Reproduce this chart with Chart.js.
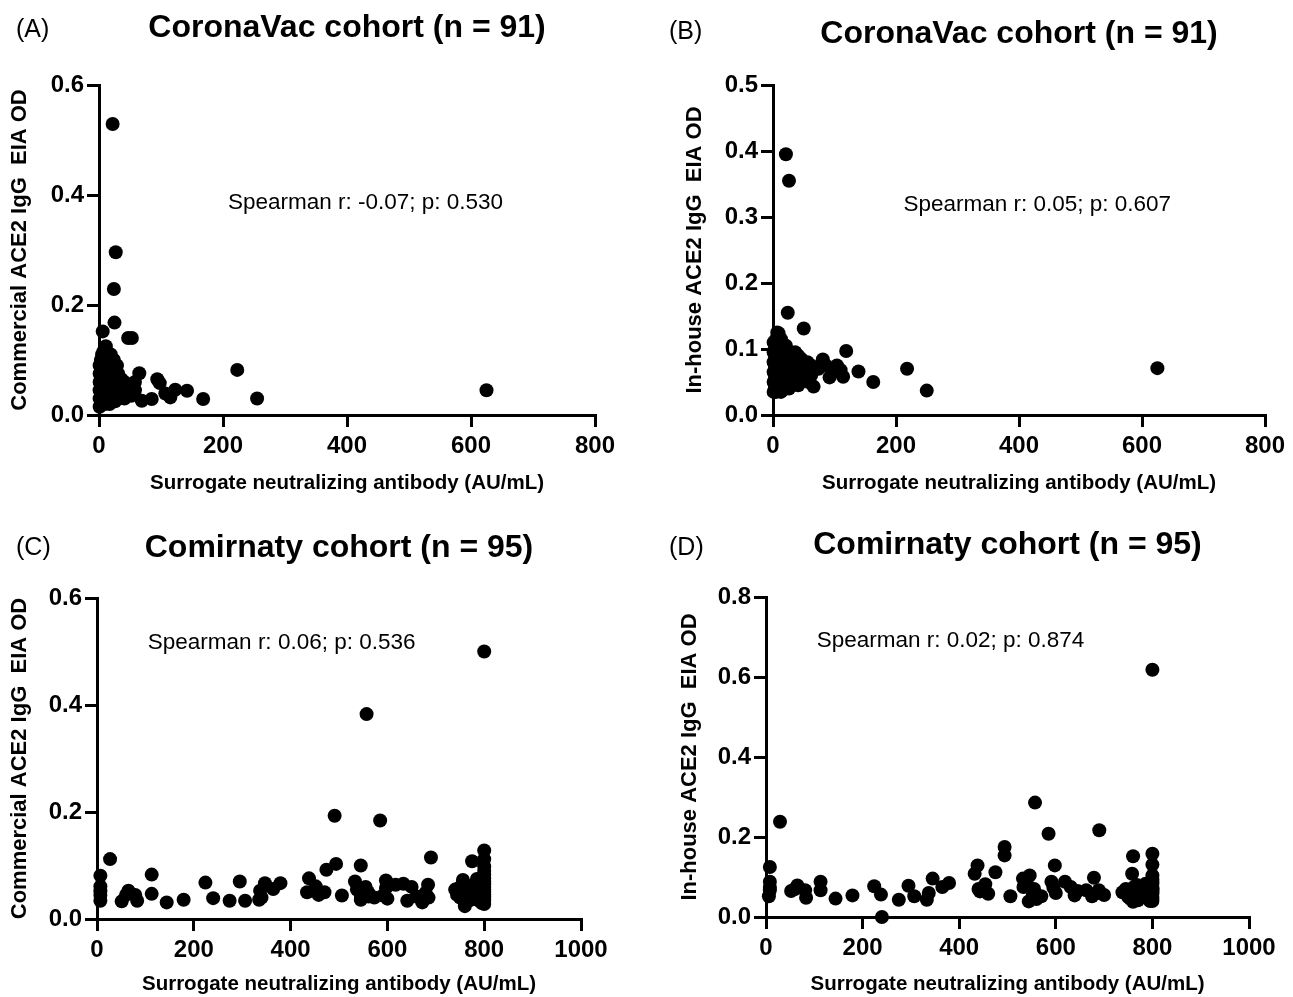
<!DOCTYPE html>
<html>
<head>
<meta charset="utf-8">
<script src="https://cdn.jsdelivr.net/npm/chart.js@4.4.1/dist/chart.umd.min.js"></script>
<style>
  body { margin: 0; background: #fff; width: 1293px; height: 997px; position: relative; overflow: hidden; }
  .panel { position: absolute; }
</style>
</head>
<body>
<div class="panel" style="left:0;top:0;width:646px;height:500px"><canvas id="chartA"></canvas></div>
<div class="panel" style="left:646px;top:0;width:647px;height:500px"><canvas id="chartB"></canvas></div>
<div class="panel" style="left:0;top:500px;width:646px;height:497px"><canvas id="chartC"></canvas></div>
<div class="panel" style="left:646px;top:500px;width:647px;height:497px"><canvas id="chartD"></canvas></div>
<script>
// (A) CoronaVac, commercial ACE2 IgG EIA
const aX = [22, 27, 24, 25, 6, 47, 53, 223, 255, 168, 142, 123, 94, 98, 65, 85, 107, 625, 115, 69,
  1, 1, 1, 1, 1, 1,
  3, 3, 3, 3, 3, 3,
  5, 5, 5, 5, 5, 5, 5,
  9, 9, 9, 9, 9, 9, 9, 9,
  13, 13, 13, 13, 13, 13, 13,
  17, 17, 17, 17, 17, 17,
  21, 21, 21, 21, 21,
  26, 26, 26, 26, 26,
  31, 31, 31, 31,
  36, 36, 36,
  41, 41, 41,
  46, 46,
  52, 52,
  58, 58,
  11, 7, 19, 24, 29];
const aY = [0.529, 0.296, 0.229, 0.168, 0.152, 0.140, 0.140, 0.082, 0.030, 0.029, 0.044, 0.046, 0.065, 0.058, 0.076, 0.029, 0.039, 0.045, 0.032, 0.026,
  0.015, 0.03, 0.045, 0.06, 0.075, 0.09,
  0.02, 0.04, 0.055, 0.07, 0.085, 0.10,
  0.025, 0.035, 0.05, 0.065, 0.08, 0.095, 0.11,
  0.02, 0.03, 0.045, 0.06, 0.075, 0.09, 0.105, 0.12,
  0.025, 0.04, 0.055, 0.07, 0.085, 0.10, 0.115,
  0.02, 0.035, 0.05, 0.065, 0.08, 0.095,
  0.03, 0.045, 0.06, 0.075, 0.09,
  0.025, 0.04, 0.055, 0.07, 0.085,
  0.03, 0.045, 0.06, 0.075,
  0.035, 0.05, 0.065,
  0.03, 0.045, 0.06,
  0.04, 0.055,
  0.035, 0.05,
  0.045, 0.06,
  0.125, 0.115, 0.11, 0.10, 0.09];

// (B) CoronaVac, in-house ACE2 IgG EIA
const bX = [21, 26, 24, 50, 119, 139, 163, 218, 250, 114, 104, 81, 92, 66, 625, 74, 98, 86, 58, 110,
  1, 1, 1, 1, 1, 1,
  3, 3, 3, 3, 3,
  5, 5, 5, 5, 5, 5, 5,
  9, 9, 9, 9, 9, 9, 9,
  13, 13, 13, 13, 13, 13, 13,
  17, 17, 17, 17, 17,
  21, 21, 21, 21, 21,
  26, 26, 26, 26, 26,
  31, 31, 31, 31,
  36, 36, 36, 36,
  41, 41, 41, 41,
  46, 46, 46,
  52, 52,
  56, 56,
  62, 62,
  7, 11, 9];
const bY = [0.395, 0.355, 0.155, 0.131, 0.097, 0.066, 0.050, 0.070, 0.037, 0.058, 0.075, 0.084, 0.057, 0.043, 0.071, 0.070, 0.066, 0.075, 0.050, 0.068,
  0.035, 0.05, 0.065, 0.08, 0.095, 0.11,
  0.04, 0.055, 0.07, 0.085, 0.10,
  0.035, 0.045, 0.06, 0.075, 0.09, 0.105, 0.115,
  0.04, 0.05, 0.065, 0.08, 0.095, 0.11, 0.12,
  0.035, 0.045, 0.06, 0.075, 0.09, 0.105, 0.115,
  0.04, 0.055, 0.07, 0.085, 0.10,
  0.045, 0.06, 0.075, 0.09, 0.105,
  0.04, 0.055, 0.07, 0.085, 0.095,
  0.045, 0.06, 0.075, 0.09,
  0.05, 0.065, 0.08, 0.095,
  0.045, 0.06, 0.075, 0.09,
  0.055, 0.07, 0.085,
  0.06, 0.075,
  0.065, 0.08,
  0.06, 0.075,
  0.125, 0.10, 0.124];

// (C) Comirnaty, commercial ACE2 IgG EIA
const cX = [800, 557, 491, 585, 690, 27, 7, 7, 7, 7, 51, 65, 79, 83, 113, 113, 144, 179, 224, 240,
  274, 295, 306, 335, 337, 347, 364, 379, 434, 438, 452, 458, 474, 494, 506, 533, 545, 537, 545, 561,
  573, 591, 597, 597, 617, 633, 641, 660, 672, 684, 679, 744, 748, 756, 760, 760, 775, 771, 783,
  800, 800, 800, 800, 800, 800, 800, 800, 800, 800, 800, 800, 800, 800, 800, 800,
  750, 765, 770, 780, 790, 795, 740, 755, 785, 788,
  340, 555, 600, 650, 685, 7, 60, 560, 545, 470];
const cY = [0.500, 0.383, 0.193, 0.184, 0.115, 0.112, 0.081, 0.061, 0.045, 0.034, 0.033, 0.053, 0.045, 0.034, 0.083, 0.047, 0.031, 0.036, 0.068, 0.039,
  0.034, 0.070, 0.034, 0.036, 0.053, 0.067, 0.056, 0.067, 0.050, 0.076, 0.061, 0.045, 0.092, 0.103, 0.044, 0.070, 0.100, 0.055, 0.036, 0.042,
  0.040, 0.044, 0.072, 0.058, 0.064, 0.066, 0.034, 0.042, 0.031, 0.064, 0.049, 0.045, 0.058, 0.073, 0.024, 0.036, 0.108, 0.058, 0.049,
  0.128, 0.112, 0.098, 0.083, 0.070, 0.060, 0.051, 0.042, 0.034, 0.028, 0.038, 0.046, 0.055, 0.065, 0.076, 0.090,
  0.040, 0.050, 0.035, 0.065, 0.045, 0.030, 0.055, 0.062, 0.075, 0.035,
  0.040, 0.060, 0.038, 0.060, 0.040, 0.052, 0.045, 0.050, 0.045, 0.050];

// (D) Comirnaty, in-house ACE2 IgG EIA
const dX = [800, 557, 585, 690, 29, 494, 494, 760, 800, 800, 8, 8, 8, 6, 52, 65, 81, 83, 113, 113,
  144, 179, 224, 238, 240, 275, 295, 307, 333, 337, 345, 365, 379, 432, 438, 443, 454, 460, 475, 506,
  532, 546, 533, 544, 552, 570, 591, 598, 595, 619, 631, 639, 663, 675, 679, 689, 738, 750, 758, 760,
  762, 774, 786,
  800, 800, 800, 800, 800, 800, 800, 800, 800, 800, 800, 800,
  745, 755, 765, 770, 780, 790, 795, 768, 778, 752,
  555, 560, 600, 645, 700, 8, 60, 440, 690, 540];
const dY = [0.618, 0.286, 0.208, 0.217, 0.238, 0.175, 0.154, 0.152, 0.158, 0.131, 0.125, 0.088, 0.067, 0.052, 0.065, 0.079, 0.067, 0.048, 0.088, 0.067,
  0.046, 0.054, 0.077, 0.056, 0.000, 0.043, 0.078, 0.052, 0.043, 0.060, 0.096, 0.075, 0.085, 0.108, 0.129, 0.064, 0.082, 0.058, 0.112, 0.052,
  0.096, 0.104, 0.075, 0.039, 0.060, 0.052, 0.088, 0.129, 0.073, 0.088, 0.075, 0.054, 0.067, 0.052, 0.098, 0.067, 0.062, 0.050, 0.108, 0.038,
  0.075, 0.062, 0.083,
  0.104, 0.094, 0.083, 0.075, 0.067, 0.058, 0.050, 0.040, 0.045, 0.062, 0.088, 0.071,
  0.070, 0.045, 0.060, 0.042, 0.070, 0.055, 0.040, 0.080, 0.050, 0.065,
  0.070, 0.045, 0.060, 0.065, 0.055, 0.075, 0.070, 0.070, 0.060, 0.085];

const xAxisTitle = "Surrogate neutralizing antibody (AU/mL)";
const FONT = "'Liberation Sans', Arial, sans-serif";

// titles, panel letters and the Spearman note
const panelText = {
  id: "panelText",
  afterDraw(chart, args, o) {
    const ctx = chart.ctx;
    const area = chart.chartArea;
    ctx.save();
    ctx.fillStyle = "#000";
    ctx.textBaseline = "middle";
    ctx.font = "bold 32px " + FONT;
    ctx.textAlign = "center";
    ctx.fillText(o.title, (area.left + area.right) / 2, o.titleY);
    ctx.font = "25px " + FONT;
    ctx.textAlign = "left";
    ctx.fillText(o.letter, o.letterX, o.letterY);
    ctx.font = "22.5px " + FONT;
    ctx.fillText(o.note, chart.scales.x.getPixelForValue(o.noteX), chart.scales.y.getPixelForValue(o.noteY));
    ctx.restore();
  }
};

function panel(id, c) {
  new Chart(document.getElementById(id), {
    type: "scatter",
    data: {
      datasets: [{
        data: c.x.map((v, i) => ({ x: v, y: c.y[i] })),
        pointRadius: 7,
        pointBackgroundColor: "#000",
        pointBorderWidth: 0,
        clip: false,
      }],
    },
    options: {
      responsive: true,
      maintainAspectRatio: false,
      animation: false,
      layout: { padding: { top: c.padTop, right: c.padRight, left: 0, bottom: 0 } },
      plugins: {
        legend: { display: false },
        tooltip: { enabled: false },
        panelText: c.text,
      },
      scales: {
        x: {
          type: "linear",
          min: 0,
          max: c.xMax,
          ticks: { stepSize: 200, color: "#000", padding: 5, maxRotation: 0, font: { family: FONT, size: 24, weight: "bold" },
            callback: (v) => String(v) },
          grid: { drawOnChartArea: false, tickLength: 12, color: "#000", lineWidth: 3 },
          border: { color: "#000", width: 3 },
          title: { display: true, text: xAxisTitle, color: "#000", padding: { top: 0, bottom: c.xTitlePad }, font: { family: FONT, size: 20.5, weight: "bold" } },
          afterFit(s) { s.height = c.xAxisH; },
        },
        y: {
          min: 0,
          max: c.yMax,
          ticks: { stepSize: c.yStep, color: "#000", padding: 3, font: { family: FONT, size: 24, weight: "bold" },
            callback: (v) => v.toFixed(1) },
          grid: { drawOnChartArea: false, tickLength: 12, color: "#000", lineWidth: 3 },
          border: { color: "#000", width: 3 },
          title: { display: true, text: c.yTitle, color: "#000", padding: { top: c.yTitlePad, bottom: 0 }, font: { family: FONT, size: 22, weight: "bold" } },
          afterFit(s) { s.width = c.yAxisW; },
        },
      },
    },
    plugins: [panelText],
  });
}

panel("chartA", {
  x: aX, y: aY, xMax: 800, yMax: 0.6, yStep: 0.2,
  padTop: 85, padRight: 51, yAxisW: 99, xAxisH: 85, xTitlePad: 4, yTitlePad: 7,
  yTitle: "Commercial ACE2 IgG  EIA OD",
  text: { title: "CoronaVac cohort (n = 91)", titleY: 28, letter: "(A)", letterX: 16, letterY: 30,
    note: "Spearman r: -0.07; p: 0.530", noteX: 208, noteY: 0.385 },
});
panel("chartB", {
  x: bX, y: bY, xMax: 800, yMax: 0.5, yStep: 0.1,
  padTop: 85, padRight: 28, yAxisW: 127, xAxisH: 85, xTitlePad: 4, yTitlePad: 36,
  yTitle: "In-house ACE2 IgG  EIA OD",
  text: { title: "CoronaVac cohort (n = 91)", titleY: 34, letter: "(B)", letterX: 23, letterY: 32,
    note: "Spearman r: 0.05; p: 0.607", noteX: 212, noteY: 0.319 },
});
panel("chartC", {
  x: cX, y: cY, xMax: 1000, yMax: 0.6, yStep: 0.2,
  padTop: 98, padRight: 65, yAxisW: 97, xAxisH: 78, xTitlePad: 0, yTitlePad: 7,
  yTitle: "Commercial ACE2 IgG  EIA OD",
  text: { title: "Comirnaty cohort (n = 95)", titleY: 48, letter: "(C)", letterX: 16, letterY: 48,
    note: "Spearman r: 0.06; p: 0.536", noteX: 105, noteY: 0.516 },
});
panel("chartD", {
  x: dX, y: dY, xMax: 1000, yMax: 0.8, yStep: 0.2,
  padTop: 97, padRight: 44, yAxisW: 120, xAxisH: 80, xTitlePad: 0, yTitlePad: 31,
  yTitle: "In-house ACE2 IgG  EIA OD",
  text: { title: "Comirnaty cohort (n = 95)", titleY: 45, letter: "(D)", letterX: 23, letterY: 48,
    note: "Spearman r: 0.02; p: 0.874", noteX: 105, noteY: 0.69 },
});
</script>
</body>
</html>
